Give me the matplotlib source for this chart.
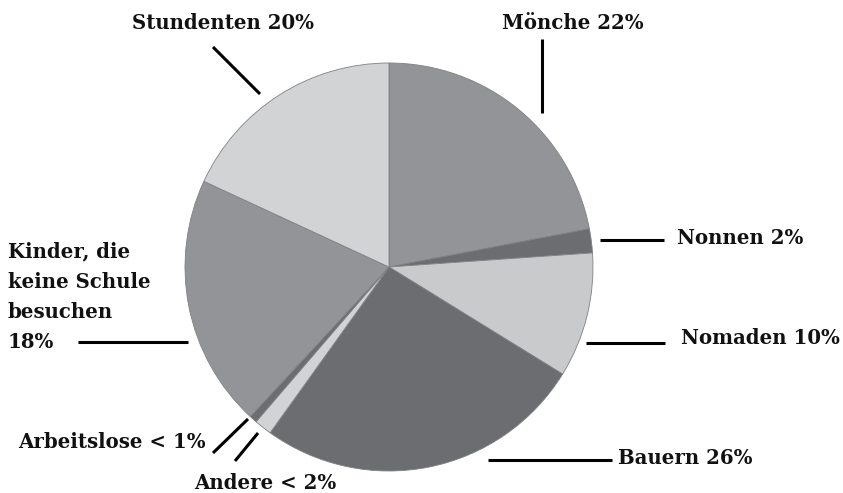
import matplotlib.pyplot as plt

# slice shares as drawn (clockwise from 12 o'clock)
groups = ["Mönche", "Nonnen", "Nomaden", "Bauern", "Andere",
          "Arbeitslose", "Kinder", "Studenten"]
shares = [22.0, 1.9, 9.9, 26.1, 1.4, 0.6, 20.0, 18.1]
colors = ["#939497", "#6c6d71", "#c9cacc", "#6c6d71", "#d2d3d5",
          "#6c6d71", "#939497", "#d2d3d5"]

# label texts as printed
label_texts = ["Mönche 22%", "Nonnen 2%", "Nomaden 10%", "Bauern 26%",
               "Andere < 2%", "Arbeitslose < 1%",
               "Kinder, die\nkeine Schule\nbesuchen\n18%", "Stundenten 20%"]

W, H = 843, 493
fig = plt.figure(figsize=(W / 100, H / 100), dpi=100)
ax = fig.add_axes([0, 0, 1, 1])

cx, cy, r = 389, H - 267, 204
ax.pie(shares, colors=colors, startangle=90, counterclock=False,
       center=(cx, cy), radius=r, frame=True,
       wedgeprops=dict(edgecolor="#808184", linewidth=0.6))

ax.set_xlim(0, W)
ax.set_ylim(0, H)
ax.set_aspect("equal")
ax.axis("off")

font = dict(family="DejaVu Serif", fontweight="bold", fontsize=14.2, color="#111111")

def line(x0, y0, x1, y1):
    ax.plot([x0, x1], [H - y0, H - y1], color="black", lw=2.2, solid_capstyle="butt")

# leader lines (pixel positions, y from top)
line(213, 47, 260, 94)
line(542, 39, 542, 113)
line(600, 240, 664, 240)
line(586, 343, 665, 343)
line(488, 460, 612, 460)
line(258, 433, 235, 461)
line(248, 419, 213, 453)
line(78, 342, 188, 342)

ax.text(223, H - 23, label_texts[7], ha="center", va="center", **font)
ax.text(573, H - 23, label_texts[0], ha="center", va="center", **font)
ax.text(677, H - 238, label_texts[1], ha="left", va="center", **font)
ax.text(681, H - 338, label_texts[2], ha="left", va="center", **font)
ax.text(618, H - 458, label_texts[3], ha="left", va="center", **font)
ax.text(194, H - 483, label_texts[4], ha="left", va="center", **font)
ax.text(112, H - 442, label_texts[5], ha="center", va="center", **font)
ax.text(8, H - 348, label_texts[6], ha="left", va="baseline",
        linespacing=1.63, **font)

fig.savefig("out.png", dpi=100)
